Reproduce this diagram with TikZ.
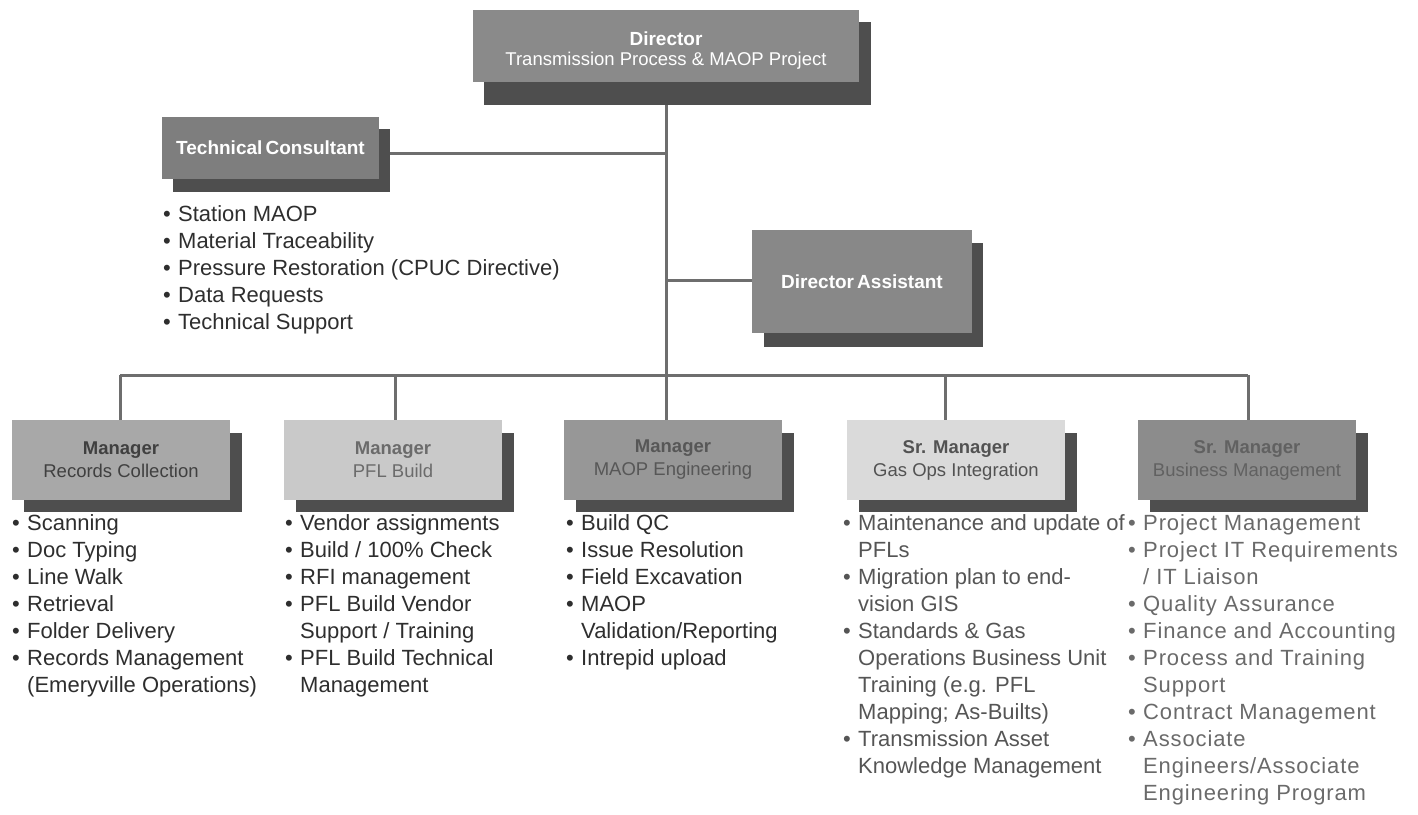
\documentclass[tikz,border=0pt]{standalone}
\usepackage{fontspec}
\setmainfont{Liberation Sans}
\usetikzlibrary{calc}
\pgfdeclarelayer{lines}
\pgfdeclarelayer{shadows}
\pgfsetlayers{lines,shadows,main}
\definecolor{linec}{HTML}{6E6E6E}
\definecolor{shadowc}{HTML}{4E4E4E}
\definecolor{dirc}{HTML}{8A8A8A}
\definecolor{tcc}{HTML}{7E7E7E}
\definecolor{dac}{HTML}{888888}
\definecolor{rcc}{HTML}{A8A8A8}
\definecolor{pbc}{HTML}{C9C9C9}
\definecolor{mec}{HTML}{979797}
\definecolor{goc}{HTML}{DADADA}
\definecolor{bmc}{HTML}{8C8C8C}
\definecolor{listdark}{HTML}{2E2E2E}
\definecolor{listmid}{HTML}{555555}
\definecolor{listlight}{HTML}{6A6A6A}
\newcommand{\bl}{\makebox[15pt][l]{•}}
\newcommand{\ind}{\hspace*{15pt}}
\newcommand{\fst}{\rule{0pt}{17pt}}
\begin{document}
\begin{tikzpicture}[x=1pt,y=-1pt,
  conn/.style={draw=linec, line width=3pt},
  topbox/.style={rectangle, inner sep=0pt, align=center, text=white,
    font=\fontsize{19}{20}\selectfont\bfseries},
  mgrbox/.style={rectangle, inner sep=0pt, align=center,
    minimum width=218pt, minimum height=80pt,
    font=\fontsize{18.5}{23}\selectfont},
  blist/.style={anchor=north west, inner sep=0pt, align=left,
    font=\fontsize{22}{27}\selectfont}
]
\useasboundingbox (0,0) rectangle (1418,814);

% top boxes
\node[topbox, fill=dirc, minimum width=386pt, minimum height=72pt] (dir) at (666,46)
  {\rule{0pt}{22pt}Director\\[0pt]{\mdseries\fontsize{18.5}{20}\selectfont Transmission Process \& MAOP Project}};
\node[topbox, fill=tcc, minimum width=217pt, minimum height=62pt] (tc) at (270.5,148)
  {Technical\,Consultant};
\node[topbox, fill=dac, minimum width=220pt, minimum height=103pt] (da) at (862,281.5)
  {Director\,Assistant};

% manager boxes
\node[mgrbox, fill=rcc, text=black!75] (rc) at (121,460) {\textbf{Manager}\\Records Collection};
\node[mgrbox, fill=pbc, text=black!58] (pb) at (393,460) {\textbf{Manager}\\PFL Build};
\node[mgrbox, fill=mec, text=black!66] (me) at (673,460) {\textbf{Manager}\\MAOP Engineering};
\node[mgrbox, fill=goc, text=black!68] (go) at (956,460) {\textbf{Sr. Manager}\\Gas Ops Integration};
\node[mgrbox, fill=bmc, text=black!62] (bm) at (1247,460) {\textbf{Sr. Manager}\\Business Management};

% shadows
\begin{pgfonlayer}{shadows}
  \fill[shadowc] ($(dir.north west)+(11,12)$) rectangle ($(dir.south east)+(12,23)$);
  \fill[shadowc] ($(tc.north west)+(11,12)$) rectangle ($(tc.south east)+(11,13)$);
  \fill[shadowc] ($(da.north west)+(12,13)$) rectangle ($(da.south east)+(11,14)$);
  \foreach \n in {rc,pb,me,go,bm}
    \fill[shadowc] ($(\n.north west)+(12,13)$) rectangle ($(\n.south east)+(12,12)$);
\end{pgfonlayer}

% connectors
\coordinate (hub) at (666,375);
\coordinate (tcj) at (666,153);
\coordinate (daj) at (666,280);
\coordinate (barL) at (120,375);
\coordinate (barR) at (1248,375);
\coordinate (dpb) at (395,375);
\coordinate (dgo) at (945,375);
\begin{pgfonlayer}{lines}
  \draw[conn] (dir) -- (hub);
  \draw[conn] (tcj) -- (tcj -| tc.east);
  \draw[conn] (daj) -- (daj -| da.west);
  \draw[conn] (barL) -- (barR);
  \draw[conn] (barL) -- (barL |- rc.north);
  \draw[conn] (dpb) -- (dpb |- pb.north);
  \draw[conn] (hub) -- (hub |- me.north);
  \draw[conn] (dgo) -- (dgo |- go.north);
  \draw[conn] (barR) -- (barR |- bm.north);
\end{pgfonlayer}

% lists
\node[blist, text=listdark] (tcl) at (163,204) {\fst\bl Station MAOP\\
\bl Material Traceability\\
\bl Pressure Restoration (CPUC Directive)\\
\bl Data Requests\\
\bl Technical Support};

\node[blist, text=listdark] (rcl) at (12,513) {\fst\bl Scanning\\
\bl Doc Typing\\
\bl Line Walk\\
\bl Retrieval\\
\bl Folder Delivery\\
\bl Records Management\\
\ind (Emeryville Operations)};

\node[blist, text=listdark] (pbl) at (285,513) {\fst\bl Vendor assignments\\
\bl Build / 100\% Check\\
\bl RFI management\\
\bl PFL Build Vendor\\
\ind Support / Training\\
\bl PFL Build Technical\\
\ind Management};

\node[blist, text=listdark] (mel) at (566,513) {\fst\bl Build QC\\
\bl Issue Resolution\\
\bl Field Excavation\\
\bl MAOP\\
\ind Validation/Reporting\\
\bl Intrepid upload};

\node[blist, text=listmid] (gol) at (843,513) {\fst\bl Maintenance and update of\\
\ind PFLs\\
\bl Migration plan to end-\\
\ind vision GIS\\
\bl Standards \& Gas\\
\ind Operations Business Unit\\
\ind Training (e.g. PFL\\
\ind Mapping; As-Builts)\\
\bl Transmission Asset\\
\ind Knowledge Management};

\node[blist, text=listlight, font=\fontsize{22}{27}\selectfont\addfontfeature{LetterSpace=4}] (bml) at (1128,513) {\fst\bl Project Management\\
\bl Project IT Requirements\\
\ind / IT Liaison\\
\bl Quality Assurance\\
\bl Finance and Accounting\\
\bl Process and Training\\
\ind Support\\
\bl Contract Management\\
\bl Associate\\
\ind Engineers/Associate\\
\ind Engineering Program};
\end{tikzpicture}
\end{document}
